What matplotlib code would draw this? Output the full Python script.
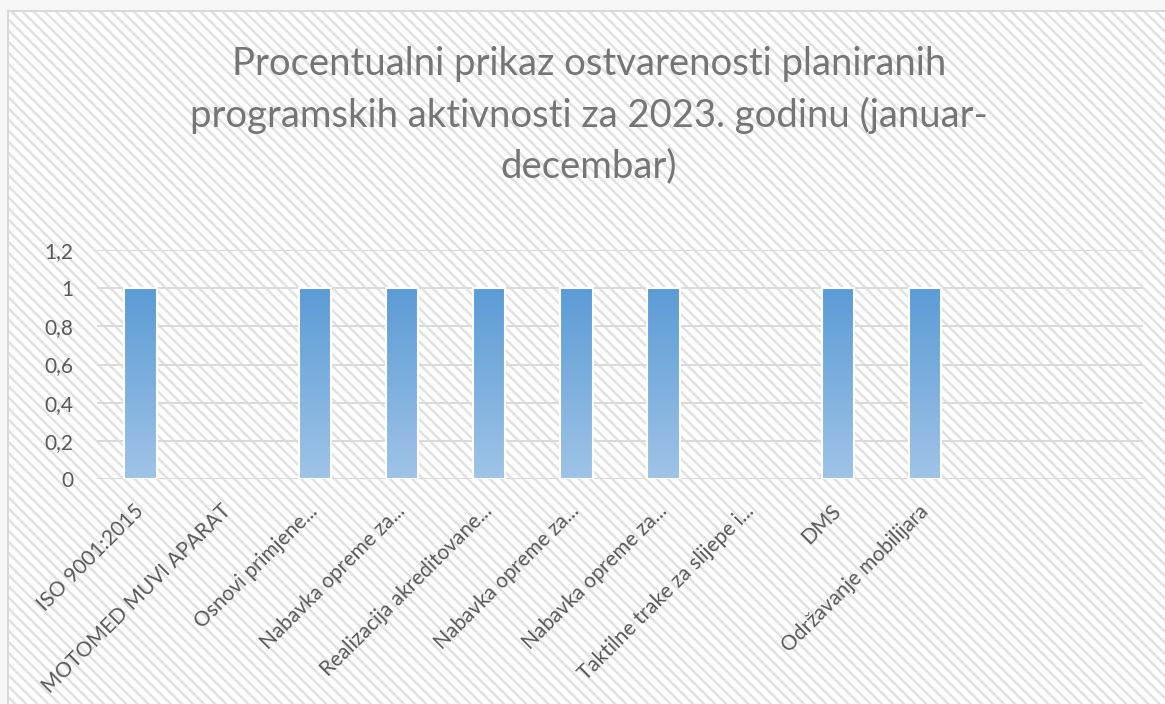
import matplotlib
matplotlib.use("Agg")
import matplotlib.pyplot as plt
import numpy as np
from matplotlib.patches import Rectangle

# data
categories = [
    "ISO 9001:2015",
    "MOTOMED MUVI APARAT",
    "Osnovi primjene...",
    "Nabavka opreme za...",
    "Realizacija akreditovane...",
    "Nabavka opreme za...",
    "Nabavka opreme za...",
    "Taktilne trake za slijepe i...",
    "DMS",
    "Održavanje mobilijara",
    "",
    "",
]
values = [1, 0, 1, 1, 1, 1, 1, 0, 1, 1, 0, 0]
yticks = [0, 0.2, 0.4, 0.6, 0.8, 1.0, 1.2]
ytick_labels = ["0", "0,2", "0,4", "0,6", "0,8", "1", "1,2"]
title = ("Procentualni prikaz ostvarenosti planiranih\n"
         "programskih aktivnosti za 2023. godinu (januar-\n"
         "decembar)")

plt.rcParams["font.family"] = ["Lato", "DejaVu Sans"]
plt.rcParams["hatch.color"] = "#e1e1e1"
plt.rcParams["hatch.linewidth"] = 1.8

W, H = 1165, 704
fig = plt.figure(figsize=(W / 100, H / 100), dpi=100, facecolor="#f7f7f7")

# chart area with diagonal stripes
bg = Rectangle((8 / W, 0), 1, 1 - 11 / H, transform=fig.transFigure,
               facecolor="white", edgecolor="#e1e1e1", hatch="\\\\\\",
               linewidth=0, zorder=-2)
fig.patches.append(bg)
border = Rectangle((8 / W, -0.01), 1, 1.01 - 11 / H, transform=fig.transFigure,
                   facecolor="none", edgecolor="#d9d9d9", linewidth=1.5, zorder=-1)
fig.patches.append(border)

ax = fig.add_axes([97 / W, (H - 479) / H, (1143 - 97) / W, 229 / H])
ax.set_facecolor("none")
ax.set_zorder(1)

x = np.arange(len(categories))
bars = ax.bar(x, values, width=0.37, color="none", edgecolor="white",
              linewidth=1.5, zorder=3)

# vertical gradient inside each bar
grad = np.linspace(0, 1, 256).reshape(-1, 1)
cmap = matplotlib.colors.LinearSegmentedColormap.from_list(
    "bar", ["#9fc4e7", "#5b9bd5"])
for b in bars:
    if b.get_height() > 0:
        ax.imshow(grad, extent=[b.get_x(), b.get_x() + b.get_width(), 0, b.get_height()],
                  origin="lower", cmap=cmap, aspect="auto", zorder=2)
    else:
        b.set_edgecolor("none")

ax.set_xlim(-0.5, len(categories) - 0.5)
ax.set_ylim(0, 1.2)
ax.set_yticks(yticks)
ax.set_yticklabels(ytick_labels)
ax.set_xticks(x)
ax.set_xticklabels(categories, rotation=45, ha="right", va="center",
                   rotation_mode="anchor")
ax.tick_params(axis="x", length=0, pad=21, labelsize=15, labelcolor="#595959")
ax.tick_params(axis="y", length=0, pad=17, labelsize=15, labelcolor="#595959")
ax.yaxis.grid(True, color="#d9d9d9", linewidth=1.4)
ax.set_axisbelow(True)
for s in ax.spines.values():
    s.set_visible(False)

fig.text(589 / W, 1 - 46 / H, title, ha="center", va="top", fontsize=27.5,
         color="#757575", linespacing=1.5)

fig.savefig("out.png", dpi=100, facecolor=fig.get_facecolor())
